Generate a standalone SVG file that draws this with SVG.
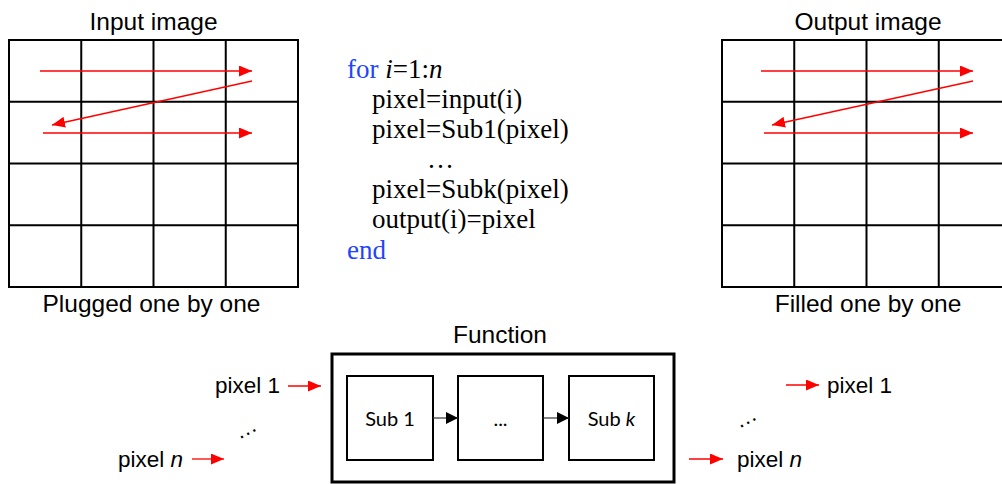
<svg xmlns="http://www.w3.org/2000/svg" width="1002" height="484" viewBox="0 0 1002 484">
<style>
.t{font-family:"Liberation Sans",Arial,sans-serif;fill:#000}
.title{font-size:24.5px}
.lab{font-size:22.5px}
.code{font-family:"Liberation Serif","Times New Roman",serif;font-size:27px;fill:#000}
.kw{fill:#1f45fc}
.sub{font-family:Lato,"Open Sans",sans-serif;font-size:20px;fill:#000}
.grid{fill:none;stroke:#000;stroke-width:2}
.red{stroke:#ff0000;stroke-width:1.3;fill:none}
.box{fill:#fff;stroke:#000;stroke-width:2}
.fbox{fill:none;stroke:#000;stroke-width:3}
.blk{stroke:#333;stroke-width:1.2;fill:none}
</style>
<defs>
<marker id="rh" markerUnits="userSpaceOnUse" markerWidth="13" markerHeight="11" refX="13" refY="5.5" orient="auto">
<path d="M0,0 L13,5.5 L0,11 z" fill="#ff0000"/>
</marker>
<marker id="bh" markerUnits="userSpaceOnUse" markerWidth="12" markerHeight="12" refX="12" refY="6" orient="auto">
<path d="M0,0 L12,6 L0,12 z" fill="#000"/>
</marker>
</defs>

<g id="input-image">
<text class="t title" x="153.5" y="30" text-anchor="middle">Input image</text>
<rect class="grid" x="9" y="40" width="289" height="247"/>
<path class="grid" d="M81.25,40V287M153.5,40V287M225.75,40V287M9,101.75H298M9,163.5H298M9,225.25H298"/>
<text class="t title" x="151.5" y="312" text-anchor="middle">Plugged one by one</text>
</g>

<g id="output-image">
<text class="t title" x="868" y="30" text-anchor="middle">Output image</text>
<rect class="grid" x="722" y="40" width="289" height="247"/>
<path class="grid" d="M794.25,40V287M866.5,40V287M938.75,40V287M722,101.75H1011M722,163.5H1011M722,225.25H1011"/>
<text class="t title" x="868" y="312" text-anchor="middle">Filled one by one</text>
</g>

<g id="code">
<text class="code" x="347" y="78"><tspan class="kw">for</tspan> <tspan font-style="italic">i</tspan>=1:<tspan font-style="italic">n</tspan></text>
<text class="code" x="372" y="108">pixel=input(i)</text>
<text class="code" x="372" y="138">pixel=Sub1(pixel)</text>
<text class="code" x="427" y="168" font-size="21px">…</text>
<text class="code" x="372" y="198">pixel=Subk(pixel)</text>
<text class="code" x="372" y="228">output(i)=pixel</text>
<text class="code kw" x="347" y="259">end</text>
</g>

<g id="function">
<text class="t title" x="500" y="343" text-anchor="middle">Function</text>
<rect class="fbox" x="332" y="354" width="342" height="128"/>
</g>
<g id="sub1">
<rect class="box" x="347" y="376" width="86" height="84"/>
<text class="sub" x="390" y="426" text-anchor="middle">Sub 1</text>
</g>
<g id="subdots">
<rect class="box" x="458" y="376" width="85" height="84"/>
<text class="sub" x="500.5" y="426" text-anchor="middle">...</text>
</g>
<g id="subk">
<rect class="box" x="569" y="376" width="85" height="84"/>
<text class="sub" x="611.5" y="426" text-anchor="middle">Sub <tspan font-style="italic">k</tspan></text>
</g>

<g id="pixel-labels">
<text class="t lab" x="215" y="393">pixel 1</text>
<text class="t lab" x="118" y="467">pixel <tspan font-style="italic">n</tspan></text>
<text class="t lab" x="827" y="393">pixel 1</text>
<text class="t lab" x="737" y="467">pixel <tspan font-style="italic">n</tspan></text>
<text class="t" font-size="22" transform="translate(239 440) rotate(-28)">…</text>
<text class="t" font-size="22" transform="translate(739 429) rotate(-28)">…</text>
</g>

<g id="connectors">
<line class="red" x1="40" y1="71" x2="252" y2="71" marker-end="url(#rh)"/>
<line class="red" x1="252" y1="81" x2="52" y2="125" marker-end="url(#rh)"/>
<line class="red" x1="43" y1="133" x2="252" y2="133" marker-end="url(#rh)"/>
<line class="red" x1="761" y1="71" x2="973" y2="71" marker-end="url(#rh)"/>
<line class="red" x1="973" y1="81" x2="772" y2="125" marker-end="url(#rh)"/>
<line class="red" x1="764" y1="133" x2="973" y2="133" marker-end="url(#rh)"/>
<line class="red" x1="288" y1="386" x2="321" y2="386" marker-end="url(#rh)"/>
<line class="red" x1="192" y1="459" x2="224" y2="459" marker-end="url(#rh)"/>
<line class="red" x1="786" y1="385" x2="819" y2="385" marker-end="url(#rh)"/>
<line class="red" x1="689" y1="459" x2="723" y2="459" marker-end="url(#rh)"/>
<line class="blk" x1="433" y1="418" x2="458" y2="418" marker-end="url(#bh)"/>
<line class="blk" x1="543" y1="418" x2="569" y2="418" marker-end="url(#bh)"/>
</g>
</svg>
